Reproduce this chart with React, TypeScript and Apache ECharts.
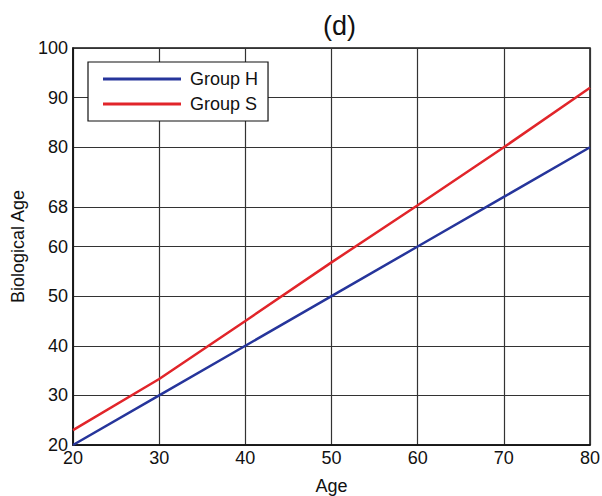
import React, { useEffect, useRef } from "react";
import * as echarts from "echarts";

const ages = [20, 30, 40, 50, 60, 70, 80];
const groupH = [20, 30, 40, 50, 60, 70, 80];
const groupS = [23, 33.3, 45, 56.8, 68.3, 80, 92];
const yTicks = [20, 30, 40, 50, 60, 68, 80, 90, 100];
const seriesNames = ["Group H", "Group S"];

const FONT = "Liberation Sans, Arial, Helvetica, sans-serif";

export default function App() {
  const ref = useRef<HTMLDivElement>(null);
  useEffect(() => {
    if (!ref.current) return;
    const chart = echarts.init(ref.current, undefined, { renderer: "svg" });
    chart.setOption({
      animation: false,
      backgroundColor: "#ffffff",
      title: {
        text: "(d)",
        left: 318,
        top: 7,
        textStyle: { fontFamily: FONT, fontSize: 27, fontWeight: "normal", color: "#111" },
      },
      legend: {
        orient: "vertical",
        left: 88,
        top: 62,
        padding: [8, 10, 8, 15],
        itemGap: 7,
        itemWidth: 78,
        itemHeight: 3,
        icon: "rect",
        backgroundColor: "#fff",
        borderColor: "#111",
        borderWidth: 1.2,
        borderRadius: 0,
        textStyle: { fontFamily: FONT, fontSize: 18, color: "#111", padding: [0, 0, 0, 4] },
        data: seriesNames,
      },
      grid: {
        left: 73,
        right: 12,
        top: 48,
        bottom: 51,
        outerBoundsMode: "none",
        containLabel: false,
        show: true,
        borderColor: "#111",
        borderWidth: 1.5,
        backgroundColor: "transparent",
      },
      xAxis: {
        type: "value",
        min: 20,
        max: 80,
        interval: 10,
        name: "Age",
        nameLocation: "middle",
        nameGap: 32,
        nameTextStyle: { fontFamily: FONT, fontSize: 18, color: "#111" },
        axisLine: { show: true, lineStyle: { color: "#111", width: 1.5 } },
        axisTick: { show: false },
        axisLabel: { fontFamily: FONT, fontSize: 18, color: "#111", margin: 4 },
        splitLine: { show: true, lineStyle: { color: "#333", width: 1.2 } },
      },
      yAxis: {
        type: "value",
        min: 20,
        max: 100,
        name: "Biological Age",
        nameLocation: "middle",
        nameGap: 46,
        nameTextStyle: { fontFamily: FONT, fontSize: 18, color: "#111" },
        axisLine: { show: true, lineStyle: { color: "#111", width: 1.5 } },
        axisTick: { show: false, customValues: yTicks },
        axisLabel: { fontFamily: FONT, fontSize: 18, color: "#111", margin: 5, customValues: yTicks },
        splitLine: { show: true, lineStyle: { color: "#333", width: 1.2 } },
      },
      series: [
        {
          name: seriesNames[0],
          type: "line",
          data: ages.map((a, i) => [a, groupH[i]]),
          showSymbol: false,
          lineStyle: { color: "#26359b", width: 2.5 },
          itemStyle: { color: "#26359b" },
          z: 3,
        },
        {
          name: seriesNames[1],
          type: "line",
          data: ages.map((a, i) => [a, groupS[i]]),
          showSymbol: false,
          lineStyle: { color: "#e1252a", width: 2.5 },
          itemStyle: { color: "#e1252a" },
          z: 4,
        },
      ],
    });
    return () => chart.dispose();
  }, []);
  return (
    <div
      ref={ref}
      style={{ position: "absolute", left: 0, top: 0, width: 602, height: 496 }}
    />
  );
}
